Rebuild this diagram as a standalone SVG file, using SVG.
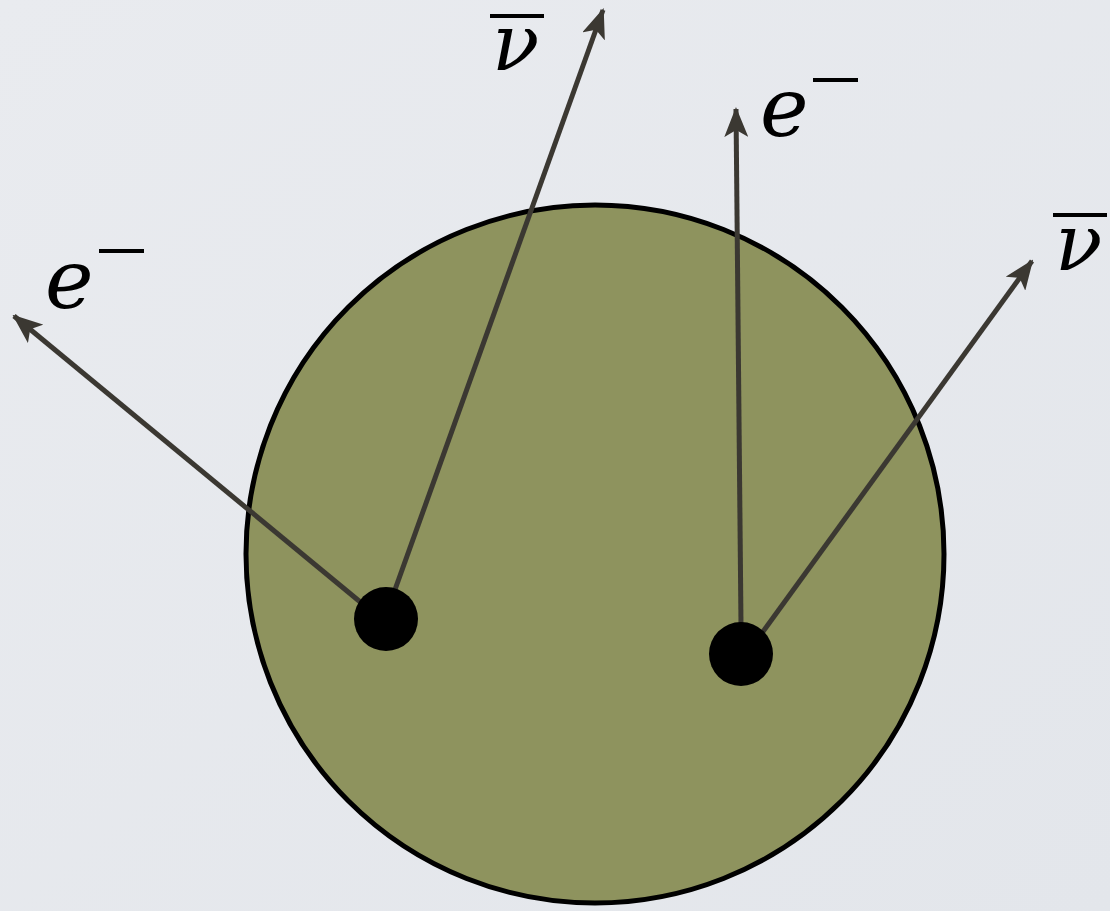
<svg xmlns="http://www.w3.org/2000/svg" width="1110" height="911" viewBox="0 0 1110 911">
<defs>
<linearGradient id="bg" x1="0" y1="0" x2="1" y2="1">
<stop offset="0" stop-color="#e9ebef"/>
<stop offset="1" stop-color="#e3e6eb"/>
</linearGradient>
<marker id="ah" viewBox="0 0 30 24" refX="28" refY="12" markerWidth="30" markerHeight="24" markerUnits="userSpaceOnUse" orient="auto">
<path d="M0,0 L30,12 L0,24 L7,12 Z" fill="#3b3832"/>
</marker>
<style>
.conn{stroke:#3b3832;stroke-width:5;fill:none;marker-end:url(#ah)}
.lbl{font-family:'DejaVu Serif',serif;font-style:italic;fill:#000}
.bar{fill:#000}
</style>
</defs>
<rect width="1110" height="911" fill="url(#bg)"/>
<g id="nucleus">
<circle cx="595" cy="554" r="349" fill="#8e935e" stroke="#000" stroke-width="5"/>
</g>
<g id="connectors">
<line class="conn" x1="370" y1="610" x2="14" y2="316"/>
<line class="conn" x1="392" y1="598" x2="603" y2="10"/>
<line class="conn" x1="741" y1="625" x2="736" y2="109"/>
<line class="conn" x1="757" y1="640" x2="1032" y2="261"/>
</g>
<g id="dot1"><circle cx="386" cy="619" r="32" fill="#000"/></g>
<g id="dot2"><circle cx="741" cy="654" r="32" fill="#000"/></g>
<g id="label-e-left">
<text class="lbl" x="45" y="308" font-size="82">e</text>
<rect class="bar" x="99" y="249" width="45" height="4"/>
</g>
<g id="label-nu-top">
<rect class="bar" x="490" y="14" width="54" height="4"/>
<text class="lbl" x="492" y="70" font-size="78">ν</text>
</g>
<g id="label-e-right">
<text class="lbl" x="760" y="136" font-size="82">e</text>
<rect class="bar" x="813" y="78" width="45" height="4"/>
</g>
<g id="label-nu-right">
<rect class="bar" x="1053" y="213" width="54" height="4"/>
<text class="lbl" x="1055" y="270" font-size="78">ν</text>
</g>
</svg>
